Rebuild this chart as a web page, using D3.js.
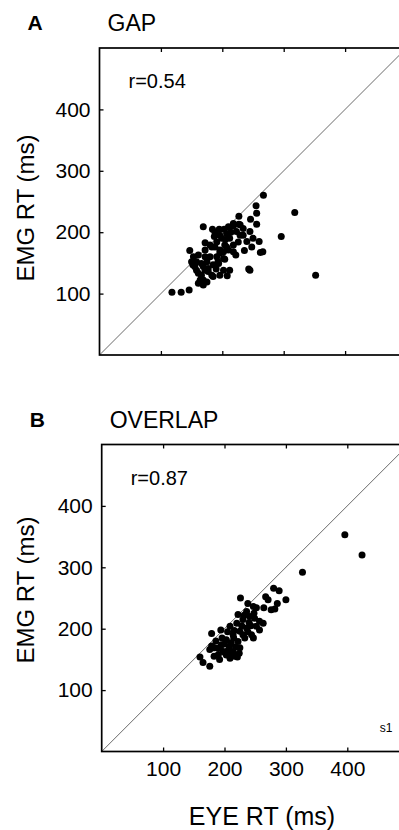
<!DOCTYPE html>
<html>
<head>
<meta charset="utf-8">
<script src="https://cdn.jsdelivr.net/npm/d3@7"></script>
<style>
  body { margin: 0; background: #fff; }
  svg { display: block; }
  text { font-family: "Liberation Sans", Arial, sans-serif; fill: #000; }
</style>
</head>
<body>
<div id="chart"></div>
<script>
let width = 399,
    height = 830,
    size = 307

// EYE RT vs EMG RT (ms)
let gapData = [
  [267,260],[318,232],[255,243],[256,231],[227,226],[246,221],[256,213],[169,209],[184,205],[203,205],
  [218,210],[227,213],[296,193],[245,201],[187,193],[352,130],[118,102],[133,102],[146,106],[243,140],
  [266,168],[222,163],[147,170],[152,147],[212,138],[208,129],[250,190],[260,185],[248,176],[262,167],
  [245,138],[210,209],[218,214],[229,212],[223,201],[234,195],[153,160],[161,163],[172,171],[180,179],
  [191,184],[164,122],[169,114],[161,133],[177,141],[185,147],[193,152],[202,168],[207,176],[199,190],
  [212,190],[218,179],[202,157],[191,160],[175,152],[183,130],[172,138],[196,130],[202,138],[155,144],
  [166,149],[175,119],[166,130],[196,171],[204,179],[210,171],[218,168],[226,184],[229,195],[234,206],
  [207,198],[196,195],[188,176],[172,160],[158,152],[150,152],[172,183],[183,176],[196,166],[204,156],
  [194,149],[169,144],[158,138],[177,136],[185,128],[169,122],[161,117],[240,185],[236,170],[195,205],
  [214,200],[190,140],[180,160],[188,200],[205,188]
];

let overlapData = [
  [396,353],[424,320],[327,292],[280,266],[289,262],[267,252],[271,247],[300,247],[226,250],[238,241],
  [286,241],[264,234],[276,231],[282,232],[247,236],[252,234],[222,223],[236,228],[241,220],[249,217],
  [257,212],[263,209],[252,204],[257,198],[244,190],[247,185],[179,192],[194,198],[209,204],[220,209],
  [230,215],[214,190],[225,196],[236,201],[203,182],[184,169],[195,174],[211,177],[222,179],[233,185],
  [176,166],[190,158],[201,161],[214,163],[225,169],[209,152],[221,154],[160,154],[165,145],[176,139],
  [192,150],[179,172],[183,155],[198,163],[217,155],[182,169],[208,171],[215,185],[205,195],[228,205],
  [240,210],[218,170],[200,175],[190,168],[230,190],[212,160],[238,195],[196,185],[186,180],[224,160],
  [206,165],[243,205],[248,225],[232,222],[216,197],[203,157],[193,170]
];

let tickValues = [100, 200, 300, 400];
let panelLetters = ["A", "B"];
let panelTitles = ["GAP", "OVERLAP"];
let rValues = ["r=0.54", "r=0.87"];

let panels = [
  {left: 99.5, top: 48, data: gapData, xLabels: false, yLabelY: 208},
  {left: 101.7, top: 444.5, data: overlapData, xLabels: true, yLabelY: 590}
];

let svg = d3.select("#chart")
  .append("svg")
    .attr("width", width)
    .attr("height", height);

let x = d3.scaleLinear().domain([0, 500]).range([0, size]);
let y = d3.scaleLinear().domain([0, 500]).range([size, 0]);

panels.forEach(function(p, i) {
  let g = svg.append("g")
    .attr("transform", "translate(" + p.left + "," + p.top + ")");

  // letter and title
  svg.append("text")
    .attr("x", p.left - 72)
    .attr("y", p.top - 18)
    .style("font-size", "21px")
    .style("font-weight", "bold")
    .text(panelLetters[i]);
  svg.append("text")
    .attr("x", p.left + 8)
    .attr("y", p.top - 17)
    .style("font-size", "23px")
    .text(panelTitles[i]);

  // identity line
  g.append("line")
    .attr("x1", x(0)).attr("y1", y(0))
    .attr("x2", x(500)).attr("y2", y(500))
    .attr("stroke", "#444")
    .attr("stroke-width", 0.8);

  // axes, ticks pointing inward
  g.append("g")
    .attr("transform", "translate(0," + size + ")")
    .call(d3.axisBottom(x).tickValues(tickValues).tickSize(-4).tickPadding(10)
      .tickFormat(p.xLabels ? d3.format("d") : ""));
  g.append("g")
    .call(d3.axisLeft(y).tickValues(tickValues).tickSize(-4).tickPadding(9).tickFormat(d3.format("d")));
  g.append("g")
    .call(d3.axisTop(x).tickValues(tickValues).tickSize(-4).tickFormat(""));
  g.append("g")
    .attr("transform", "translate(" + size + ",0)")
    .call(d3.axisRight(y).tickValues(tickValues).tickSize(-4).tickFormat(""));

  g.selectAll(".domain").remove();
  g.selectAll(".tick line").attr("stroke", "#000").attr("stroke-width", 1.3);
  g.selectAll(".tick text")
    .style("font-size", "21px")
    .style("font-family", "'Liberation Sans', Arial, sans-serif")
    .attr("fill", "#000");

  g.append("rect")
    .attr("width", size)
    .attr("height", size)
    .attr("fill", "none")
    .attr("stroke", "#000")
    .attr("stroke-width", 1.7);

  g.append("text")
    .attr("x", 29)
    .attr("y", 40)
    .style("font-size", "20px")
    .text(rValues[i]);

  g.selectAll("circle")
    .data(p.data)
    .enter()
    .append("circle")
    .attr("cx", d => x(d[0]))
    .attr("cy", d => y(d[1]))
    .attr("r", 3.5)
    .attr("fill", "#000");

  svg.append("text")
    .attr("transform", "translate(34," + p.yLabelY + ") rotate(-90)")
    .attr("text-anchor", "middle")
    .style("font-size", "24px")
    .text("EMG RT (ms)");
});

svg.append("text")
  .attr("x", 386)
  .attr("y", 732)
  .attr("text-anchor", "middle")
  .style("font-size", "12px")
  .text("s1");

svg.append("text")
  .attr("x", 262)
  .attr("y", 825)
  .attr("text-anchor", "middle")
  .style("font-size", "25px")
  .text("EYE RT (ms)");
</script>
</body>
</html>
